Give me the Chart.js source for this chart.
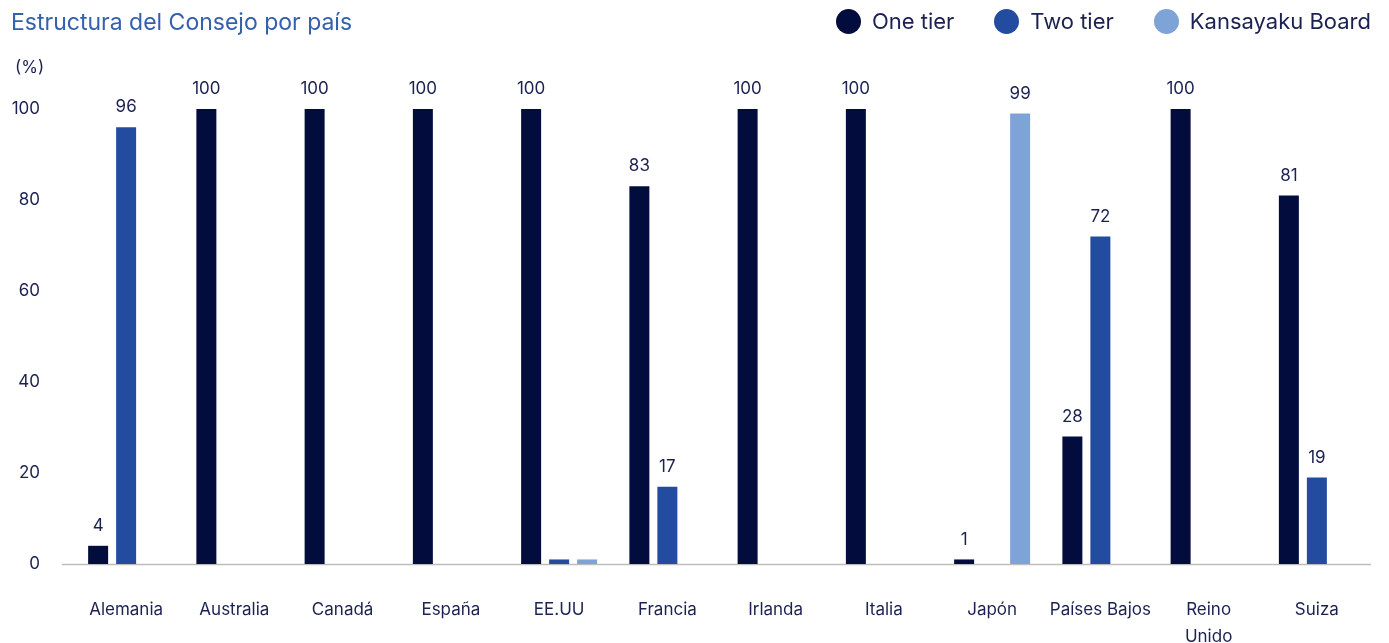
<!DOCTYPE html>
<html lang="es">
<head>
<meta charset="utf-8">
<title>Estructura del Consejo por país</title>
<script src="https://cdn.jsdelivr.net/npm/chart.js@4/dist/chart.umd.min.js"></script>
<style>
  html, body { margin: 0; padding: 0; background: #ffffff; }
  body { width: 1389px; height: 643px; position: relative; overflow: hidden; font-family: Inter, "Noto Sans", sans-serif; }
  #chart { position: absolute; left: 0; top: 0; }
  #title { position: absolute; left: 11px; top: 7px; font-size: 23px; line-height: 30px; color: #3461ad; white-space: nowrap; }
  #unit { position: absolute; left: 15px; top: 57px; font-size: 17px; color: #1b2150; }
  #legend { position: absolute; right: 18px; top: 8px; display: flex; align-items: center; font-size: 22px; color: #1b2150; white-space: nowrap; }
  .item { display: flex; align-items: center; margin-left: 40px; }
  .item:first-child { margin-left: 0; }
  .dot { width: 25px; height: 25px; border-radius: 50%; margin-right: 11px; }
</style>
</head>
<body>
<canvas id="chart" width="1389" height="643"></canvas>
<div id="title">Estructura del Consejo por país</div>
<div id="unit">(%)</div>
<div id="legend"></div>
<script>
// Countries along the x axis (multi-line labels as arrays)
const countries = ['Alemania', 'Australia', 'Canadá', 'España', 'EE.UU', 'Francia',
  'Irlanda', 'Italia', 'Japón', 'Países Bajos', ['Reino', 'Unido'], 'Suiza'];

// Share of companies by board structure (%)
const oneTier   = [4, 100, 100, 100, 100, 83, 100, 100, 1, 28, 100, 81];
const twoTier   = [96, null, null, null, 1, 17, null, null, null, 72, null, 19];
const kansayaku = [null, null, null, null, 1, null, null, null, 99, null, null, null];

const seriesNames  = ['One tier', 'Two tier', 'Kansayaku Board'];
const seriesColors = ['#020d3e', '#234b9f', '#7ea3d6'];

// Y axis ticks
const yTicks = [0, 20, 40, 60, 80, 100];

// Small values that carry no value label: [series index, category index]
const unlabeled = [[1, 4], [2, 4]];

const textColor = '#1b2150';
const fontFamily = 'Inter, "Noto Sans", sans-serif';

// HTML legend built from the series
const legend = document.getElementById('legend');
seriesNames.forEach((name, i) => {
  const item = document.createElement('div');
  item.className = 'item';
  const dot = document.createElement('span');
  dot.className = 'dot';
  dot.style.background = seriesColors[i];
  const label = document.createElement('span');
  label.textContent = name;
  item.appendChild(dot);
  item.appendChild(label);
  legend.appendChild(item);
});

// Baseline at zero, extended slightly left of the plot area
const zeroLine = {
  id: 'zeroLine',
  beforeDatasetsDraw(chart) {
    const { ctx, chartArea, scales } = chart;
    const y = Math.round(scales.y.getPixelForValue(0)) + 0.5;
    ctx.save();
    ctx.strokeStyle = '#bdbdbd';
    ctx.lineWidth = 1.5;
    ctx.beginPath();
    ctx.moveTo(62, y);
    ctx.lineTo(chartArea.right, y);
    ctx.stroke();
    ctx.restore();
  }
};

// Value labels above the bars
const valueLabels = {
  id: 'valueLabels',
  afterDatasetsDraw(chart) {
    const { ctx } = chart;
    ctx.save();
    ctx.font = '17px ' + fontFamily;
    ctx.fillStyle = textColor;
    ctx.textAlign = 'center';
    ctx.textBaseline = 'middle';
    chart.data.datasets.forEach((ds, di) => {
      const meta = chart.getDatasetMeta(di);
      meta.data.forEach((bar, i) => {
        const v = ds.data[i];
        if (v === null || v === undefined) return;
        if (unlabeled.some(([s, c]) => s === di && c === i)) return;
        ctx.fillText(String(v), bar.x, bar.y - 20);
      });
    });
    ctx.restore();
  }
};

new Chart(document.getElementById('chart'), {
  type: 'bar',
  data: {
    labels: countries,
    datasets: [oneTier, twoTier, kansayaku].map((values, i) => ({
      label: seriesNames[i],
      data: values,
      backgroundColor: seriesColors[i],
      borderWidth: 0,
      categoryPercentage: 0.776,
      barPercentage: 0.714
    }))
  },
  options: {
    responsive: false,
    devicePixelRatio: 1,
    animation: false,
    layout: { padding: { top: 109, right: 18, left: 0, bottom: 0 } },
    plugins: {
      legend: { display: false },
      title: { display: false },
      tooltip: { enabled: false }
    },
    scales: {
      x: {
        grid: { display: false, drawTicks: false },
        border: { display: false },
        ticks: {
          color: textColor,
          font: { family: fontFamily, size: 17, lineHeight: 1.55 },
          padding: 33,
          maxRotation: 0,
          autoSkip: false
        },
        afterFit(s) { s.height = 79; }
      },
      y: {
        min: 0,
        max: 100,
        grid: { display: false, drawTicks: false },
        border: { display: false },
        afterBuildTicks(s) { s.ticks = yTicks.map(v => ({ value: v })); },
        ticks: {
          color: textColor,
          font: { family: fontFamily, size: 17 },
          padding: 32
        },
        afterFit(s) { s.width = 72; }
      }
    }
  },
  plugins: [zeroLine, valueLabels]
});
</script>
</body>
</html>
